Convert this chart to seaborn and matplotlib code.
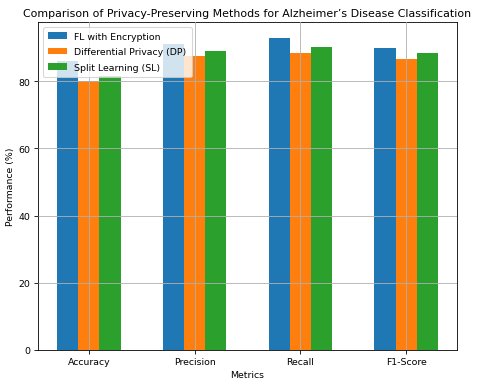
import matplotlib
matplotlib.use("Agg")
import matplotlib.pyplot as plt
import seaborn as sns
import pandas as pd

metrics = ["Accuracy", "Precision", "Recall", "F1-Score"]
methods = ["FL with Encryption", "Differential Privacy (DP)", "Split Learning (SL)"]
fl_values = [86.0, 91.0, 93.0, 90.0]
dp_values = [80.0, 87.5, 88.4, 86.7]
sl_values = [81.6, 89.0, 90.2, 88.5]
colors = ["#1f77b4", "#ff7f0e", "#2ca02c"]

rows = []
for method, vals in zip(methods, [fl_values, dp_values, sl_values]):
    for m, v in zip(metrics, vals):
        rows.append({"Metric": m, "Method": method, "Value": v})
df = pd.DataFrame(rows)

plt.rcParams["font.size"] = 9

fig = plt.figure(figsize=(6.4, 388 / 75), dpi=75)
ax = fig.add_axes([38 / 480, 1 - 351 / 388, (457 - 38) / 480, (351 - 23) / 388])
sns.barplot(data=df, x="Metric", y="Value", hue="Method", order=metrics,
            hue_order=methods, palette=colors, saturation=1, width=0.6,
            errorbar=None, ax=ax)
ax.set_xlim(-0.48, 3.48)
ax.set_ylim(0, 93.0 * 1.05)
ax.grid(True)
ax.set_axisbelow(False)
ax.set_title("Comparison of Privacy-Preserving Methods for Alzheimer\u2019s Disease Classification",
             fontsize=10.6)
ax.set_xlabel("Metrics")
ax.set_ylabel("Performance (%)")
ax.legend(loc="upper left", title=None, labelspacing=0.68, borderpad=0.55)
fig.savefig("out.png", dpi=75)
